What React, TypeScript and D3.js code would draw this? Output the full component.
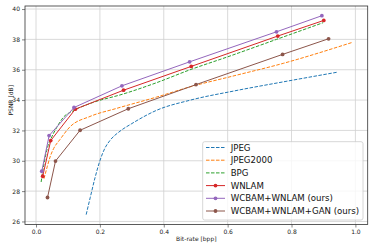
import React, { useEffect, useRef } from 'react';
import * as d3 from 'd3';

// rate-distortion curves: [bpp, PSNR]
const jpeg: [number, number][] = [
  [0.157, 26.45], [0.17, 27.6], [0.185, 28.9], [0.2, 30.0], [0.215, 30.8], [0.232, 31.35],
  [0.263, 31.95], [0.3, 32.45], [0.378, 33.33], [0.482, 33.99], [0.62, 34.6], [0.774, 35.2], [0.944, 35.84],
];
const jpeg2000: [number, number][] = [
  [0.025, 28.82], [0.035, 29.6], [0.044, 30.25], [0.055, 30.8], [0.075, 31.4], [0.106, 32.23],
  [0.169, 32.92], [0.252, 33.45], [0.378, 34.2], [0.482, 34.87], [0.62, 35.6], [0.774, 36.42], [0.99, 37.8],
];
const bpg: [number, number][] = [
  [0.016, 28.6], [0.025, 29.8], [0.035, 30.8], [0.05, 31.6], [0.065, 32.2], [0.085, 32.85],
  [0.117, 33.3], [0.17, 33.78], [0.273, 34.4], [0.378, 35.15], [0.48, 35.98], [0.6, 36.85], [0.753, 38.0], [0.899, 39.1],
];
const wnlam: [number, number][] = [
  [0.021, 28.98], [0.046, 31.33], [0.123, 33.4], [0.274, 34.65], [0.486, 36.22], [0.757, 38.22], [0.901, 39.25],
];
const wcbam: [number, number][] = [
  [0.018, 29.31], [0.041, 31.66], [0.119, 33.51], [0.269, 34.94], [0.481, 36.52], [0.753, 38.5], [0.895, 39.56],
];
const wcbamGan: [number, number][] = [
  [0.036, 27.58], [0.061, 29.98], [0.138, 32.01], [0.289, 33.43], [0.501, 35.02], [0.772, 37.01], [0.916, 38.04],
];

const xTicks = [0, 0.2, 0.4, 0.6, 0.8, 1.0];
const yTicks = [26, 28, 30, 32, 34, 36, 38, 40];

const series = [
  { name: 'JPEG', data: jpeg, color: '#1f77b4', dashed: true, marker: false },
  { name: 'JPEG2000', data: jpeg2000, color: '#ff7f0e', dashed: true, marker: false },
  { name: 'BPG', data: bpg, color: '#2ca02c', dashed: true, marker: false },
  { name: 'WNLAM', data: wnlam, color: '#d62728', dashed: false, marker: true },
  { name: 'WCBAM+WNLAM (ours)', data: wcbam, color: '#9467bd', dashed: false, marker: true },
  { name: 'WCBAM+WNLAM+GAN (ours)', data: wcbamGan, color: '#8c564b', dashed: false, marker: true },
];

export default function App() {
  const ref = useRef<SVGSVGElement>(null);

  useEffect(() => {
    const W = 374;
    const H = 249;
    const svg = d3.select(ref.current);
    svg.selectAll('*').remove();

    const left = 25, right = 367.7, top = 6, bottom = 224.5;
    const x = d3.scaleLinear().domain([-0.0345, 1.0385]).range([left, right]);
    const y = d3.scaleLinear().domain([25.8, 40.2]).range([bottom, top]);

    svg.append('rect').attr('width', W).attr('height', H).attr('fill', '#fff');

    // grid
    const g = svg.append('g');
    g.selectAll('.gx').data(xTicks).join('line')
      .attr('x1', d => x(d)).attr('x2', d => x(d)).attr('y1', top).attr('y2', bottom)
      .attr('stroke', '#d0d0d0').attr('stroke-width', 0.8);
    g.selectAll('.gy').data(yTicks).join('line')
      .attr('y1', d => y(d)).attr('y2', d => y(d)).attr('x1', left).attr('x2', right)
      .attr('stroke', '#d0d0d0').attr('stroke-width', 0.8);

    // axes
    const ax = svg.append('g').attr('transform', `translate(0,${bottom})`)
      .call(d3.axisBottom(x).tickValues(xTicks).tickFormat(d3.format('.1f')).tickSize(3).tickPadding(2));
    const ay = svg.append('g').attr('transform', `translate(${left},0)`)
      .call(d3.axisLeft(y).tickValues(yTicks).tickSize(3).tickPadding(2));
    [ax, ay].forEach(a => {
      a.select('.domain').remove();
      a.selectAll('text').attr('font-family', 'DejaVu Sans').attr('font-size', 6).attr('fill', '#222');
      a.selectAll('line').attr('stroke', '#333').attr('stroke-width', 0.6);
    });

    svg.append('rect').attr('x', left).attr('y', top).attr('width', right - left).attr('height', bottom - top)
      .attr('fill', 'none').attr('stroke', '#333').attr('stroke-width', 0.8);

    svg.append('text').attr('x', (left + right) / 2).attr('y', 241).attr('text-anchor', 'middle')
      .attr('font-family', 'DejaVu Sans').attr('font-size', 6).attr('fill', '#222').text('Bit-rate [bpp]');
    svg.append('text').attr('transform', `translate(11,${(top + bottom) / 2 - 15}) rotate(-90)`)
      .attr('text-anchor', 'middle').attr('dominant-baseline', 'middle')
      .attr('font-family', 'DejaVu Sans').attr('font-size', 6).attr('fill', '#222').text('PSNR [dB]');

    const plot = svg.append('g');
    series.forEach(s => {
      const line = d3.line<[number, number]>()
        .x(d => x(d[0])).y(d => y(d[1]))
        .curve(s.dashed ? d3.curveMonotoneX : d3.curveLinear);
      plot.append('path').datum(s.data).attr('d', line)
        .attr('fill', 'none').attr('stroke', s.color).attr('stroke-width', 1)
        .attr('stroke-dasharray', s.dashed ? '3.5,1.5' : null);
      if (s.marker) {
        plot.selectAll(null).data(s.data).join('circle')
          .attr('cx', d => x(d[0])).attr('cy', d => y(d[1])).attr('r', 1.9).attr('fill', s.color);
      }
    });

    // legend
    const lg = svg.append('g');
    lg.append('rect').attr('x', 202.7).attr('y', 141.7).attr('width', 160.3).attr('height', 78.3)
      .attr('rx', 2).attr('fill', '#fff').attr('fill-opacity', 0.8).attr('stroke', '#ccc').attr('stroke-width', 0.8);
    series.forEach((s, i) => {
      const ly = 147.5 + i * 12.7;
      lg.append('line').attr('x1', 206).attr('x2', 225).attr('y1', ly).attr('y2', ly)
        .attr('stroke', s.color).attr('stroke-width', 1)
        .attr('stroke-dasharray', s.dashed ? '3.5,1.5' : null);
      if (s.marker) lg.append('circle').attr('cx', 215.5).attr('cy', ly).attr('r', 1.9).attr('fill', s.color);
      lg.append('text').attr('x', 230.7).attr('y', ly).attr('dominant-baseline', 'central')
        .attr('font-family', 'DejaVu Sans').attr('font-size', 8.6).attr('fill', '#111').text(s.name);
    });
  }, []);

  return (
    <div style={{ position: 'fixed', left: 0, top: 0 }}>
      <svg ref={ref} width={374} height={249} style={{ display: 'block' }} />
    </div>
  );
}
